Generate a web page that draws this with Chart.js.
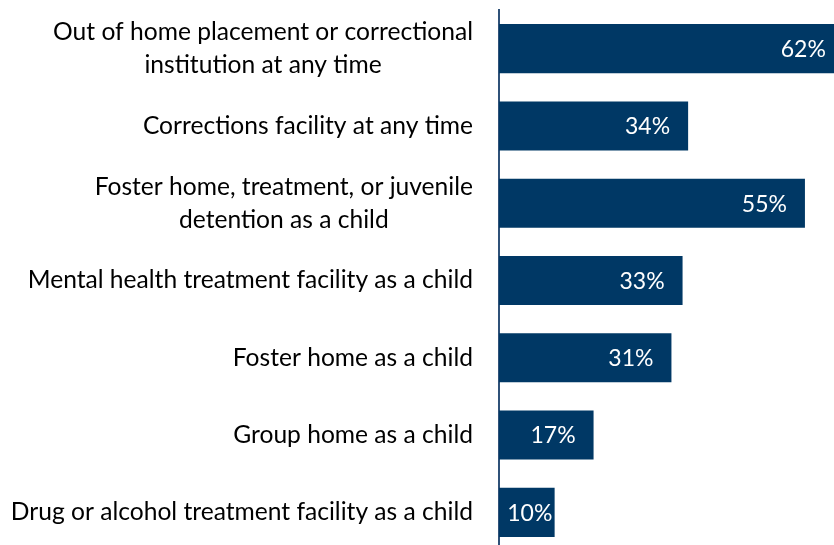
<!DOCTYPE html>
<html>
<head>
<meta charset="utf-8">
<script src="https://cdn.jsdelivr.net/npm/chart.js@4.4.1/dist/chart.umd.min.js"></script>
<style>
  html, body { margin: 0; padding: 0; background: #fff; overflow: hidden; }
  #wrap { width: 834px; height: 545px; overflow: hidden; }
</style>
</head>
<body>
<div id="wrap"><canvas id="placementChart" width="855" height="551"></canvas></div>
<script>
const categories = [
  ["Out of home placement or correctional", "institution at any time"],
  ["Corrections facility at any time"],
  ["Foster home, treatment, or juvenile", "detention as a child"],
  ["Mental health treatment facility as a child"],
  ["Foster home as a child"],
  ["Group home as a child"],
  ["Drug or alcohol treatment facility as a child"]
];
const percentages = [62, 34, 55, 33, 31, 17, 10];

const barColor = "#003865";
const fontFamily = "Lato, 'Open Sans', sans-serif";

// category names drawn to the left of the axis, lines centred inside a right-aligned block
const categoryLabels = {
  id: "categoryLabels",
  afterDraw(chart) {
    const ctx = chart.ctx;
    const yScale = chart.scales.y;
    const right = chart.chartArea.left - 26;
    const lineHeight = 33;
    ctx.save();
    ctx.font = "24.6px " + fontFamily;
    ctx.fillStyle = "#000";
    ctx.textBaseline = "middle";
    ctx.textAlign = "center";
    categories.forEach((lines, i) => {
      const y = yScale.getPixelForValue(i);
      const blockWidth = Math.max(...lines.map(l => ctx.measureText(l).width));
      const cx = right - blockWidth / 2;
      const top = y - (lines.length - 1) * lineHeight / 2;
      lines.forEach((line, j) => ctx.fillText(line, cx, top + j * lineHeight));
    });
    ctx.restore();
  }
};

// white percentage labels inside the bar ends
const valueLabels = {
  id: "valueLabels",
  afterDatasetsDraw(chart) {
    const ctx = chart.ctx;
    const meta = chart.getDatasetMeta(0);
    const pad = 18;
    ctx.save();
    ctx.font = "23px " + fontFamily;
    ctx.fillStyle = "#fff";
    ctx.textBaseline = "middle";
    meta.data.forEach((bar, i) => {
      const text = percentages[i] + "%";
      const w = ctx.measureText(text).width;
      const barWidth = bar.x - bar.base;
      if (w + pad * 2 > barWidth) {
        ctx.textAlign = "center";
        ctx.fillText(text, bar.base + barWidth / 2 + 3, bar.y + 1);
      } else {
        ctx.textAlign = "right";
        ctx.fillText(text, bar.x - pad, bar.y + 1);
      }
    });
    ctx.restore();
  }
};

new Chart(document.getElementById("placementChart"), {
  type: "bar",
  data: {
    labels: categories,
    datasets: [{
      data: percentages,
      backgroundColor: barColor,
      borderWidth: 0,
      categoryPercentage: 1,
      barPercentage: 0.635
    }]
  },
  options: {
    indexAxis: "y",
    responsive: false,
    animation: false,
    layout: { padding: { left: 499, top: 10, right: 0, bottom: 0 } },
    plugins: {
      legend: { display: false },
      tooltip: { enabled: false }
    },
    scales: {
      x: {
        display: false,
        min: 0,
        max: 64
      },
      y: {
        afterFit(scale) { scale.width = 0; },
        ticks: { display: false },
        grid: { drawOnChartArea: false, drawTicks: false },
        border: { display: true, color: "#2f5178", width: 2 }
      }
    }
  },
  plugins: [categoryLabels, valueLabels]
});
</script>
</body>
</html>
